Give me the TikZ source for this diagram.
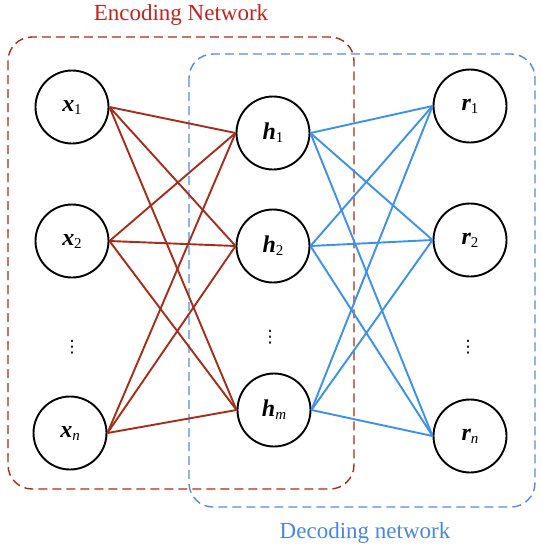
\documentclass[tikz,border=0pt]{standalone}
\usepackage{fontspec}
\setmainfont{Liberation Serif}
\newfontfamily\dotsfont{DejaVu Sans}
\definecolor{encred}{RGB}{165,45,25}
\definecolor{enctext}{RGB}{195,35,30}
\definecolor{decblue}{RGB}{60,145,235}
\definecolor{decbox}{RGB}{80,140,225}
\definecolor{dectext}{RGB}{75,135,220}
\newcommand{\nlab}[3]{{\fontsize{24}{24}\selectfont\bfseries\itshape #1}\raisebox{-0.3em}{\fontsize{15}{15}\selectfont #2#3}}
\tikzset{
  neuron/.style={circle, draw=black, line width=1.9pt, minimum size=73pt, inner sep=0pt, fill=white},
  enc/.style={draw=encred, line width=1.9pt},
  dec/.style={draw=decblue, line width=1.9pt},
  encbox/.style={draw=encred, line width=1.4pt, dash pattern=on 9pt off 5pt, rounded corners=24pt},
  decbox/.style={draw=decbox, line width=1.4pt, dash pattern=on 9pt off 5pt, rounded corners=24pt},
  vdots/.style={font=\dotsfont\fontsize{17}{17}\selectfont}
}
\begin{document}
\begin{tikzpicture}[x=1pt,y=-1pt]
\useasboundingbox (0,0) rectangle (542,550);
\fill[white] (0,0) rectangle (542,550);
% boxes
\draw[encbox] (8,37) rectangle (354,489);
\draw[decbox] (189,54) rectangle (535,507);
% titles
\node[text=enctext, font=\fontsize{23}{23}\selectfont] (enc) at (181,15) {Encoding Network};
\node[text=dectext, font=\fontsize{23}{23}\selectfont] (dec) at (365,533) {Decoding network};
% coordinates of nodes
\coordinate (cx1) at (72,107);
\coordinate (cx2) at (72,241);
\coordinate (cxn) at (70,433);
\coordinate (ch1) at (273,133);
\coordinate (ch2) at (273,246);
\coordinate (chm) at (274,410);
\coordinate (cr1) at (470,106);
\coordinate (cr2) at (470,240);
\coordinate (crn) at (470,436);
% nodes
\node[neuron] (x1) at (cx1) {\nlab{x}{\upshape}{1}};
\node[neuron] (x2) at (cx2) {\nlab{x}{\upshape}{2}};
\node[neuron] (xn) at (cxn) {\nlab{x}{\itshape}{n}};
\node[neuron] (h1) at (ch1) {\nlab{h}{\upshape}{1}};
\node[neuron] (h2) at (ch2) {\nlab{h}{\upshape}{2}};
\node[neuron] (hm) at (chm) {\nlab{h}{\itshape}{m}};
\node[neuron] (r1) at (cr1) {\nlab{r}{\upshape}{1}};
\node[neuron] (r2) at (cr2) {\nlab{r}{\upshape}{2}};
\node[neuron] (rn) at (crn) {\nlab{r}{\itshape}{n}};
\node[vdots] (dx) at (72,347) {⋮};
\node[vdots] (dh) at (270,337) {⋮};
\node[vdots] (dr) at (468,347) {⋮};
% connectors
\foreach \a in {x1,x2,xn}{
  \foreach \b in {h1,h2,hm}{
    \draw[enc] (\a.east) -- (\b.west);
  }
}
\foreach \a in {h1,h2,hm}{
  \foreach \b in {r1,r2,rn}{
    \draw[dec] (\a.east) -- (\b.west);
  }
}
\end{tikzpicture}
\end{document}
